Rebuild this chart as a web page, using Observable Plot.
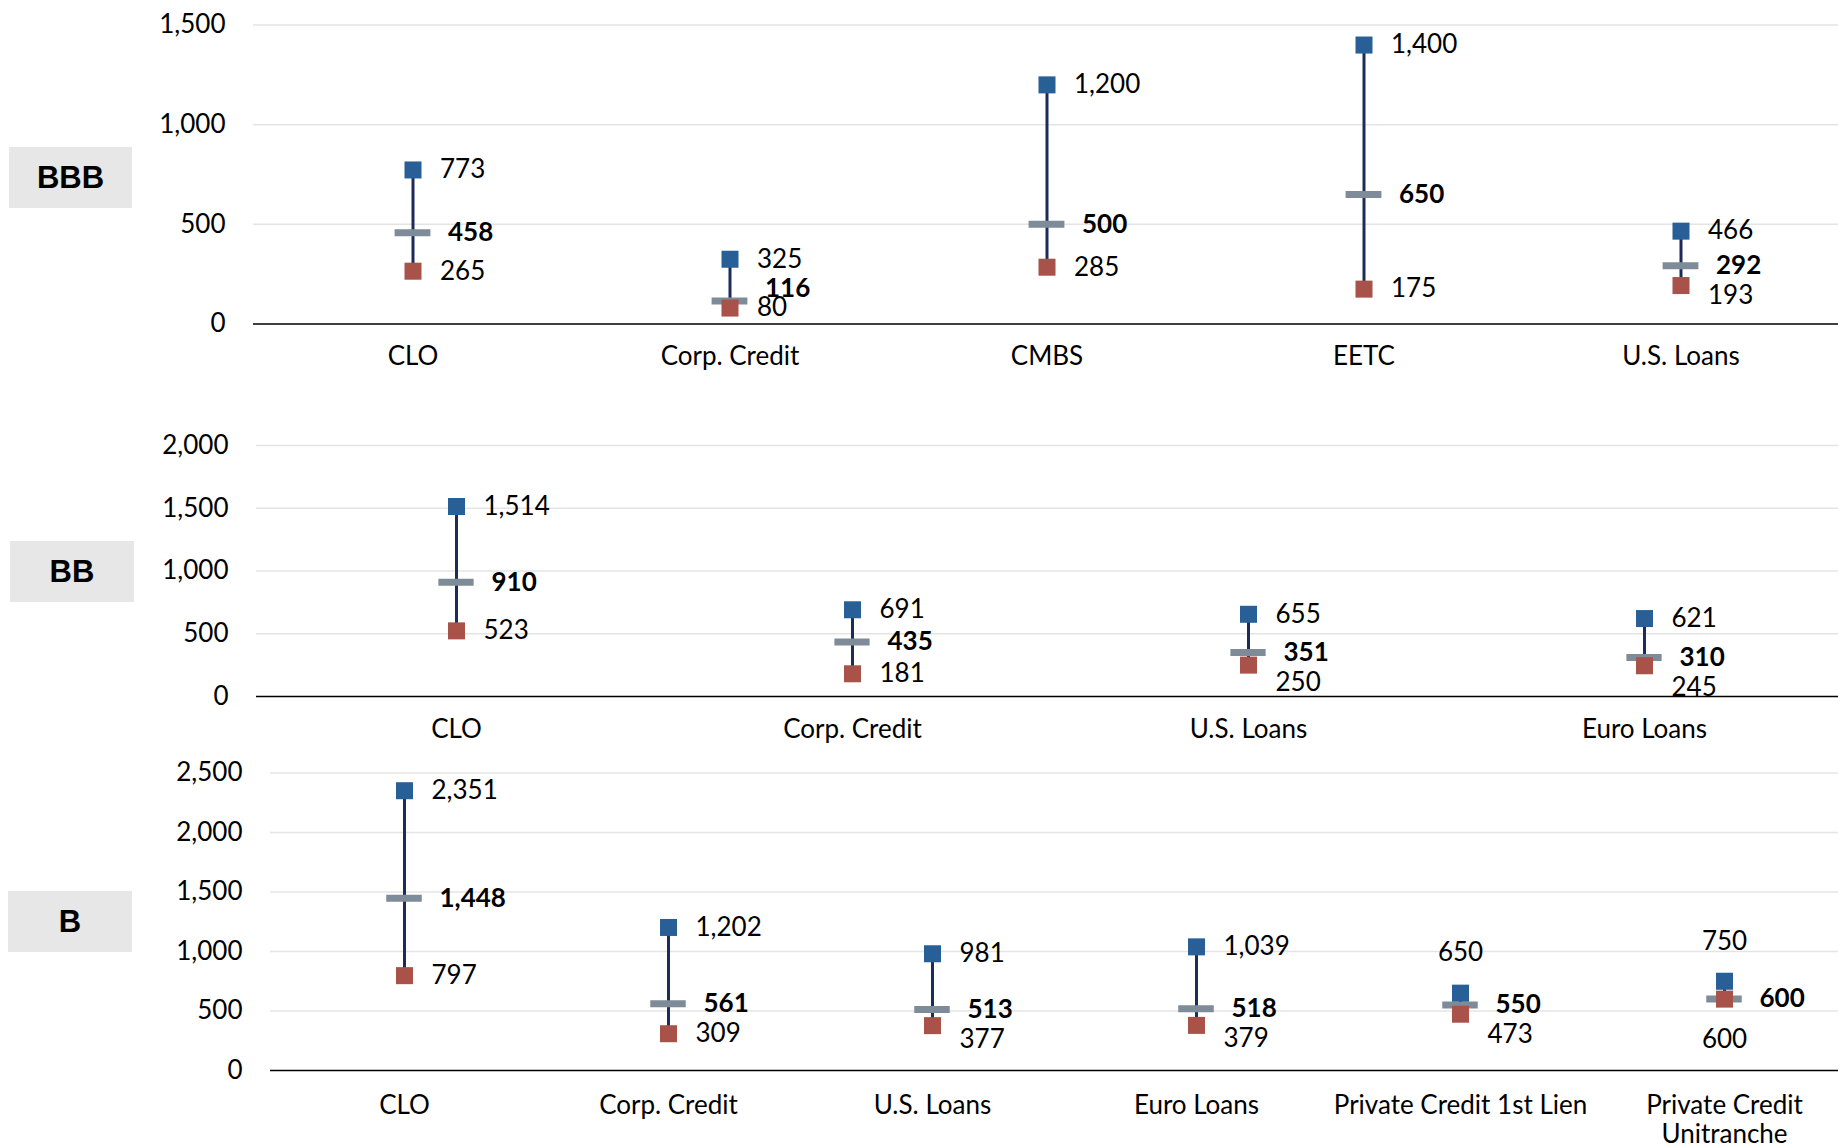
<!DOCTYPE html>
<html><head><meta charset="utf-8">
<script src="https://cdn.jsdelivr.net/npm/d3@7"></script>
<script src="https://cdn.jsdelivr.net/npm/@observablehq/plot@0.6"></script>
<style>
html,body{margin:0;padding:0;background:#fff;overflow:hidden;}
#wrap{position:relative;width:1838px;height:1148px;overflow:hidden;}
.panel{position:absolute;left:0;max-width:none !important;}
.tag{position:absolute;background:#e7e7e8;font-family:"Liberation Sans",Arial,sans-serif;font-weight:bold;font-size:31px;display:flex;align-items:center;justify-content:center;color:#000;}
</style></head><body><div id="wrap"></div>
<script>
// ---- data ----
const bbbCategories = ["CLO", "Corp. Credit", "CMBS", "EETC", "U.S. Loans"];
const bbbHigh   = [773, 325, 1200, 1400, 466];
const bbbMedian = [458, 116, 500, 650, 292];
const bbbLow    = [265, 80, 285, 175, 193];
const bbbTicks  = [0, 500, 1000, 1500];

const bbCategories = ["CLO", "Corp. Credit", "U.S. Loans", "Euro Loans"];
const bbHigh   = [1514, 691, 655, 621];
const bbMedian = [910, 435, 351, 310];
const bbLow    = [523, 181, 250, 245];
const bbTicks  = [0, 500, 1000, 1500, 2000];

const bCategories = ["CLO", "Corp. Credit", "U.S. Loans", "Euro Loans", "Private Credit 1st Lien", "Private Credit Unitranche"];
const bHigh   = [2351, 1202, 981, 1039, 650, 750];
const bMedian = [1448, 561, 513, 518, 550, 600];
const bLow    = [797, 309, 377, 379, 473, 600];
const bTicks  = [0, 500, 1000, 1500, 2000, 2500];

const ratingTags = ["BBB", "BB", "B"];

// ---- layout ----
const layouts = [
  {top: 0,   height: 380, width: 1839, marginTop: 24.6, marginBottom: 56.5, marginLeft: 253,  xPad: 20, tag: {left: 9, top: 147, w: 123, h: 61}},
  {top: 380, height: 385, width: 1843, marginTop: 65,   marginBottom: 69,   marginLeft: 256,  xPad: 21, tag: {left: 10, top: 541, w: 124, h: 61}},
  {top: 765, height: 383, width: 1857, marginTop: 7.5,  marginBottom: 78,   marginLeft: 270,  xPad: 23, tag: {left: 8, top: 891, w: 124, h: 61}}
];
const panelData = [
  {cats: bbbCategories, high: bbbHigh, median: bbbMedian, low: bbbLow, ticks: bbbTicks},
  {cats: bbCategories, high: bbHigh, median: bbMedian, low: bbLow, ticks: bbTicks},
  {cats: bCategories, high: bHigh, median: bMedian, low: bLow, ticks: bTicks}
];

const COLORS = {high: "#275f96", low: "#a8524a", median: "#7e8b98", rule: "#1c2b58", grid: "#e4e4e4"};
const wrap = document.getElementById("wrap");
const fmt = d3.format(",");

panelData.forEach((pd, p) => {
  const L = layouts[p];
  const yMax = pd.ticks[pd.ticks.length - 1];
  const k = (L.height - L.marginTop - L.marginBottom) / yMax; // px per unit
  const bw = (L.width - L.marginLeft) / pd.cats.length;
  const rows = pd.cats.map((c, i) => ({cat: c, high: pd.high[i], median: pd.median[i], low: pd.low[i]}));

  // label placement rules (collision avoidance)
  const highRight = [], highAbove = [], lowRight = [], lowBelow = [], medLabels = [];
  const minSep = 30;
  rows.forEach(r => {
    const gapHigh = (r.high - r.median) * k;
    const gapLow = (r.median - r.low) * k;
    const compressed = gapHigh < 22;
    if (compressed) highAbove.push({cat: r.cat, y: r.high + 40 / k, v: r.high});
    else highRight.push({cat: r.cat, y: r.high, v: r.high});
    let medShift = 0;
    if (compressed && gapLow < 3) {
      lowBelow.push({cat: r.cat, y: r.low - 41 / k, v: r.low});
    } else {
      let shift = Math.max(0, minSep - gapLow);
      if (r.low * k - shift < 0) { medShift = shift * 0.55; shift = 0; }
      lowRight.push({cat: r.cat, y: r.low - shift / k, v: r.low});
    }
    medLabels.push({cat: r.cat, y: r.median + medShift / k, v: r.median});
  });

  const chart = Plot.plot({
    width: L.width, height: L.height,
    marginTop: L.marginTop, marginBottom: L.marginBottom, marginLeft: L.marginLeft, marginRight: 0,
    style: {fontFamily: "Lato, 'Open Sans', sans-serif", fontSize: "26px", color: "#000", background: "transparent", overflow: "visible", maxWidth: "none"},
    x: {domain: pd.cats, padding: 0, label: null},
    y: {domain: [0, yMax], label: null},
    marks: [
      Plot.gridY(pd.ticks.filter(t => t > 0), {stroke: COLORS.grid, strokeOpacity: 1, strokeWidth: 1.5}),
      Plot.ruleY([0], {stroke: "#000", strokeWidth: 1.5}),
      Plot.axisY(pd.ticks, {tickSize: 0, tickPadding: 28, tickFormat: fmt, label: null, fill: "#000"}),
      Plot.axisX({tickSize: 0, tickPadding: L.xPad, label: null, fill: "#000", lineHeight: 1.12,
        tickFormat: d => d === "Private Credit Unitranche" ? "Private Credit\nUnitranche" : d}),
      Plot.ruleX(rows, {x: "cat", y1: "low", y2: "high", stroke: COLORS.rule, strokeWidth: 3}),
      Plot.tickY(rows, {x: "cat", y: "median", stroke: COLORS.median, strokeWidth: 7, inset: (bw - 36) / 2}),
      Plot.dot(rows, {x: "cat", y: "high", symbol: "square", r: 9.6, fill: COLORS.high}),
      Plot.dot(rows, {x: "cat", y: "low", symbol: "square", r: 9.6, fill: COLORS.low}),
      Plot.text(highRight, {x: "cat", y: "y", text: d => fmt(d.v), dx: 27, textAnchor: "start", fill: "#000"}),
      Plot.text(highAbove, {x: "cat", y: "y", text: d => fmt(d.v), textAnchor: "middle", fill: "#000"}),
      Plot.text(lowRight, {x: "cat", y: "y", text: d => fmt(d.v), dx: 27, textAnchor: "start", fill: "#000"}),
      Plot.text(lowBelow, {x: "cat", y: "y", text: d => fmt(d.v), textAnchor: "middle", fill: "#000"}),
      Plot.text(medLabels, {x: "cat", y: "y", text: d => fmt(d.v), dx: 35, textAnchor: "start", fontWeight: "bold", fill: "#000"})
    ]
  });
  chart.classList.add("panel");
  chart.style.top = L.top + "px";
  chart.style.maxWidth = "none";
  wrap.appendChild(chart);

  const tag = document.createElement("div");
  tag.className = "tag";
  tag.textContent = ratingTags[p];
  Object.assign(tag.style, {left: L.tag.left + "px", top: L.tag.top + "px", width: L.tag.w + "px", height: L.tag.h + "px"});
  wrap.appendChild(tag);
});
</script>
</body></html>
